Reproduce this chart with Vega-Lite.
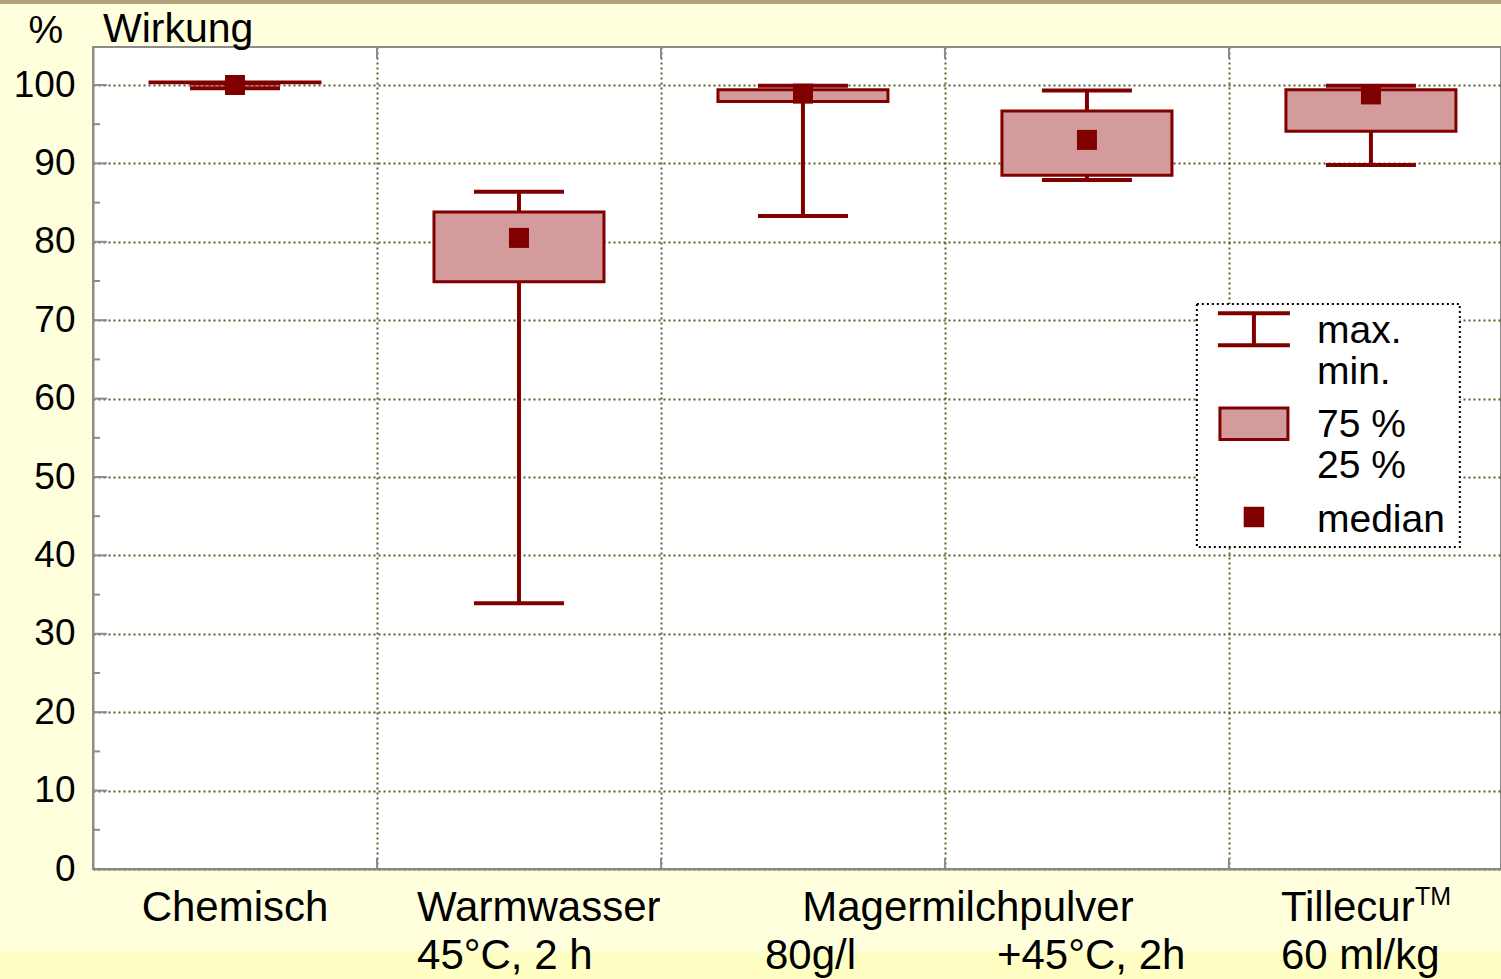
{
  "$schema": "https://vega.github.io/schema/vega-lite/v6.json",
  "autosize": {"type": "none"},
  "padding": {"left": 93, "top": 47, "right": 0, "bottom": 110},
  "width": 1408,
  "height": 822,
  "background": "#FFFFDE",
  "config": {
    "font": "Liberation Sans",
    "view": {"stroke": "#8c8c8c", "strokeWidth": 2, "fill": "white"},
    "scale": {"continuousPadding": 0}
  },
  "datasets": {
    "boxes": [
      {"pos": 1, "name": "Chemisch", "min": 99.6, "q1": 100.3, "median": 100.0, "q3": 100.4, "max": 100.2},
      {"pos": 2, "name": "Warmwasser 45°C, 2 h", "min": 33.9, "q1": 74.9, "median": 80.5, "q3": 83.8, "max": 86.4},
      {"pos": 3, "name": "Magermilchpulver 80g/l", "min": 83.3, "q1": 97.9, "median": 98.9, "q3": 99.4, "max": 99.9},
      {"pos": 4, "name": "Magermilchpulver +45°C, 2h", "min": 87.9, "q1": 88.5, "median": 93.0, "q3": 96.7, "max": 99.3},
      {"pos": 5, "name": "Tillecur 60 ml/kg", "min": 89.8, "q1": 94.1, "median": 98.8, "q3": 99.4, "max": 99.9}
    ],
    "majors": [{"v": 10}, {"v": 20}, {"v": 30}, {"v": 40}, {"v": 50}, {"v": 60}, {"v": 70}, {"v": 80}, {"v": 90}, {"v": 100}],
    "minors": [{"v": 5}, {"v": 15}, {"v": 25}, {"v": 35}, {"v": 45}, {"v": 55}, {"v": 65}, {"v": 75}, {"v": 85}, {"v": 95}],
    "bounds": [{"b": 1.5}, {"b": 2.5}, {"b": 3.5}, {"b": 4.5}],
    "one": [{}]
  },
  "layer": [
    {
      "data": {"name": "one"},
      "mark": {"type": "rect", "fill": "#FFFFC4", "clip": false},
      "encoding": {
        "x": {"datum": 0.1725, "type": "quantitative", "scale": {"domain": [0.5, 5.458], "nice": false, "zero": false, "padding": 0},
          "axis": {"values": [1.5, 2.5, 3.5, 4.5], "labels": false, "ticks": false, "title": null, "domainColor": "#8c8c8c", "domainWidth": 2, "grid": true, "gridColor": "#4d4d10", "gridDash": [2, 3], "gridWidth": 2, "gridOpacity": 0.9}},
        "x2": {"datum": 5.458},
        "y": {"datum": -10.46, "type": "quantitative", "scale": {"domain": [0, 104.85], "nice": false, "zero": false, "padding": 0},
          "axis": {"values": [0, 10, 20, 30, 40, 50, 60, 70, 80, 90, 100], "ticks": false, "labelFontSize": 37, "labelColor": "black", "labelPadding": 18, "domainColor": "#8c8c8c", "domainWidth": 2, "grid": true, "gridColor": "#4d4d10", "gridDash": [2, 3], "gridWidth": 2, "gridOpacity": 0.9,
            "title": "%", "titleAngle": 0, "titleX": -65, "titleY": -5, "titleAlign": "left", "titleBaseline": "alphabetic", "titleFontSize": 39, "titleFontWeight": "normal", "titleColor": "black"}},
        "y2": {"datum": -14.1}
      }
    },
    {
      "data": {"name": "one"},
      "mark": {"type": "rect", "fill": "#b3a27e"},
      "encoding": {
        "x": {"datum": 0.1725, "type": "quantitative"},
        "x2": {"datum": 5.458},
        "y": {"datum": 110.9, "type": "quantitative"},
        "y2": {"datum": 110.35}
      }
    },
    {
      "data": {"name": "majors"},
      "mark": {"type": "rule", "color": "#8c8c8c", "strokeWidth": 2},
      "encoding": {
        "x": {"datum": 0.5, "type": "quantitative"},
        "x2": {"datum": 0.549},
        "y": {"field": "v", "type": "quantitative"}
      }
    },
    {
      "data": {"name": "minors"},
      "mark": {"type": "rule", "color": "#8c8c8c", "strokeWidth": 2},
      "encoding": {
        "x": {"datum": 0.5, "type": "quantitative"},
        "x2": {"datum": 0.525},
        "y": {"field": "v", "type": "quantitative"}
      }
    },
    {
      "data": {"name": "bounds"},
      "mark": {"type": "rule", "color": "#8c8c8c", "strokeWidth": 2},
      "encoding": {
        "x": {"field": "b", "type": "quantitative"},
        "y": {"datum": 0, "type": "quantitative"},
        "y2": {"datum": 1.4}
      }
    },
    {
      "data": {"name": "bounds"},
      "mark": {"type": "rule", "color": "#8c8c8c", "strokeWidth": 2},
      "encoding": {
        "x": {"field": "b", "type": "quantitative"},
        "y": {"datum": 104.85, "type": "quantitative"},
        "y2": {"datum": 103.45}
      }
    },
    {
      "data": {"name": "boxes"},
      "mark": {"type": "rule", "color": "#800000", "strokeWidth": 4},
      "encoding": {
        "x": {"field": "pos", "type": "quantitative"},
        "y": {"field": "min", "type": "quantitative"},
        "y2": {"field": "max"}
      }
    },
    {
      "data": {"name": "boxes"},
      "mark": {"type": "bar", "width": 170, "fill": "#d39b9b", "stroke": "#800000", "strokeWidth": 3},
      "encoding": {
        "x": {"field": "pos", "type": "quantitative"},
        "y": {"field": "q1", "type": "quantitative"},
        "y2": {"field": "q3"}
      }
    },
    {
      "data": {"name": "boxes"},
      "mark": {"type": "tick", "orient": "horizontal", "size": 90, "thickness": 4, "color": "#800000", "opacity": 1},
      "encoding": {
        "x": {"field": "pos", "type": "quantitative"},
        "y": {"field": "max", "type": "quantitative"}
      }
    },
    {
      "data": {"name": "boxes"},
      "mark": {"type": "tick", "orient": "horizontal", "size": 90, "thickness": 4, "color": "#800000", "opacity": 1},
      "encoding": {
        "x": {"field": "pos", "type": "quantitative"},
        "y": {"field": "min", "type": "quantitative"}
      }
    },
    {
      "data": {"name": "boxes"},
      "mark": {"type": "point", "shape": "square", "size": 400, "filled": true, "color": "#800000", "opacity": 1},
      "encoding": {
        "x": {"field": "pos", "type": "quantitative"},
        "y": {"field": "median", "type": "quantitative"}
      }
    },
    {
      "data": {"name": "one"},
      "mark": {"type": "rect", "fill": "white", "stroke": "black", "strokeWidth": 2, "strokeDash": [2, 3]},
      "encoding": {
        "x": {"datum": 4.387, "type": "quantitative"},
        "x2": {"datum": 5.313},
        "y": {"datum": 72.07, "type": "quantitative"},
        "y2": {"datum": 41.07}
      }
    },
    {
      "data": {"name": "one"},
      "mark": {"type": "rule", "color": "#800000", "strokeWidth": 4},
      "encoding": {
        "x": {"datum": 4.588, "type": "quantitative"},
        "y": {"datum": 66.8, "type": "quantitative"},
        "y2": {"datum": 70.9}
      }
    },
    {
      "data": {"name": "one"},
      "mark": {"type": "tick", "orient": "horizontal", "size": 72, "thickness": 4, "color": "#800000", "opacity": 1},
      "encoding": {
        "x": {"datum": 4.588, "type": "quantitative"},
        "y": {"datum": 70.9, "type": "quantitative"}
      }
    },
    {
      "data": {"name": "one"},
      "mark": {"type": "tick", "orient": "horizontal", "size": 72, "thickness": 4, "color": "#800000", "opacity": 1},
      "encoding": {
        "x": {"datum": 4.588, "type": "quantitative"},
        "y": {"datum": 66.8, "type": "quantitative"}
      }
    },
    {
      "data": {"name": "one"},
      "mark": {"type": "bar", "width": 68, "fill": "#d39b9b", "stroke": "#800000", "strokeWidth": 3},
      "encoding": {
        "x": {"datum": 4.588, "type": "quantitative"},
        "y": {"datum": 54.8, "type": "quantitative"},
        "y2": {"datum": 58.8}
      }
    },
    {
      "data": {"name": "one"},
      "mark": {"type": "point", "shape": "square", "size": 420, "filled": true, "color": "#800000", "opacity": 1},
      "encoding": {
        "x": {"datum": 4.588, "type": "quantitative"},
        "y": {"datum": 44.9, "type": "quantitative"}
      }
    },
    {
      "data": {"name": "one"},
      "mark": {"type": "text", "text": "max.", "align": "left", "baseline": "middle", "fontSize": 39, "color": "black"},
      "encoding": {"x": {"datum": 4.81, "type": "quantitative"}, "y": {"datum": 68.6, "type": "quantitative"}}
    },
    {
      "data": {"name": "one"},
      "mark": {"type": "text", "text": "min.", "align": "left", "baseline": "middle", "fontSize": 39, "color": "black"},
      "encoding": {"x": {"datum": 4.81, "type": "quantitative"}, "y": {"datum": 63.4, "type": "quantitative"}}
    },
    {
      "data": {"name": "one"},
      "mark": {"type": "text", "text": "75 %", "align": "left", "baseline": "middle", "fontSize": 39, "color": "black"},
      "encoding": {"x": {"datum": 4.81, "type": "quantitative"}, "y": {"datum": 56.6, "type": "quantitative"}}
    },
    {
      "data": {"name": "one"},
      "mark": {"type": "text", "text": "25 %", "align": "left", "baseline": "middle", "fontSize": 39, "color": "black"},
      "encoding": {"x": {"datum": 4.81, "type": "quantitative"}, "y": {"datum": 51.4, "type": "quantitative"}}
    },
    {
      "data": {"name": "one"},
      "mark": {"type": "text", "text": "median", "align": "left", "baseline": "middle", "fontSize": 39, "color": "black"},
      "encoding": {"x": {"datum": 4.81, "type": "quantitative"}, "y": {"datum": 44.5, "type": "quantitative"}}
    },
    {
      "data": {"name": "one"},
      "mark": {"type": "text", "text": "Wirkung", "align": "left", "baseline": "alphabetic", "fontSize": 41, "color": "black"},
      "encoding": {"x": {"datum": 0.535, "type": "quantitative"}, "y": {"datum": 105.5, "type": "quantitative"}}
    },
    {
      "data": {"name": "one"},
      "mark": {"type": "text", "text": "Chemisch", "align": "center", "baseline": "alphabetic", "fontSize": 42, "color": "black"},
      "encoding": {"x": {"datum": 1.0, "type": "quantitative"}, "y": {"datum": -6.63, "type": "quantitative"}}
    },
    {
      "data": {"name": "one"},
      "mark": {"type": "text", "text": "Warmwasser", "align": "left", "baseline": "alphabetic", "fontSize": 42, "color": "black"},
      "encoding": {"x": {"datum": 1.641, "type": "quantitative"}, "y": {"datum": -6.63, "type": "quantitative"}}
    },
    {
      "data": {"name": "one"},
      "mark": {"type": "text", "text": "45°C, 2 h", "align": "left", "baseline": "alphabetic", "fontSize": 42, "color": "black"},
      "encoding": {"x": {"datum": 1.641, "type": "quantitative"}, "y": {"datum": -12.76, "type": "quantitative"}}
    },
    {
      "data": {"name": "one"},
      "mark": {"type": "text", "text": "Magermilchpulver", "align": "center", "baseline": "alphabetic", "fontSize": 42, "color": "black"},
      "encoding": {"x": {"datum": 3.581, "type": "quantitative"}, "y": {"datum": -6.63, "type": "quantitative"}}
    },
    {
      "data": {"name": "one"},
      "mark": {"type": "text", "text": "80g/l", "align": "left", "baseline": "alphabetic", "fontSize": 42, "color": "black"},
      "encoding": {"x": {"datum": 2.866, "type": "quantitative"}, "y": {"datum": -12.76, "type": "quantitative"}}
    },
    {
      "data": {"name": "one"},
      "mark": {"type": "text", "text": "+45°C, 2h", "align": "left", "baseline": "alphabetic", "fontSize": 42, "color": "black"},
      "encoding": {"x": {"datum": 3.683, "type": "quantitative"}, "y": {"datum": -12.76, "type": "quantitative"}}
    },
    {
      "data": {"name": "one"},
      "mark": {"type": "text", "text": "Tillecur", "align": "left", "baseline": "alphabetic", "fontSize": 42, "color": "black"},
      "encoding": {"x": {"datum": 4.683, "type": "quantitative"}, "y": {"datum": -6.63, "type": "quantitative"}}
    },
    {
      "data": {"name": "one"},
      "mark": {"type": "text", "text": "TM", "align": "left", "baseline": "alphabetic", "fontSize": 25, "color": "black"},
      "encoding": {"x": {"datum": 5.155, "type": "quantitative"}, "y": {"datum": -4.6, "type": "quantitative"}}
    },
    {
      "data": {"name": "one"},
      "mark": {"type": "text", "text": "60 ml/kg", "align": "left", "baseline": "alphabetic", "fontSize": 42, "color": "black"},
      "encoding": {"x": {"datum": 4.683, "type": "quantitative"}, "y": {"datum": -12.76, "type": "quantitative"}}
    }
  ]
}
